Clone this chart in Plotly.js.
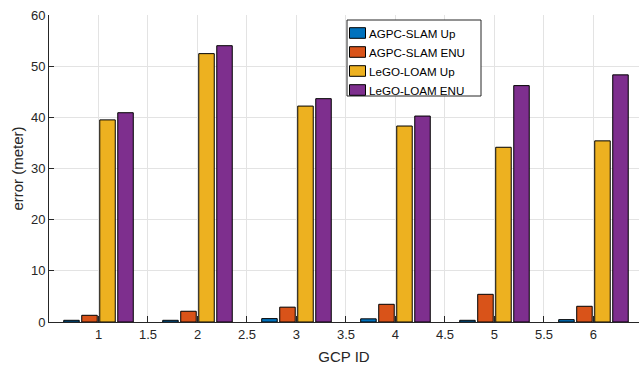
<!DOCTYPE html>
<html>
<head>
<meta charset="utf-8">
<script src="https://cdn.plot.ly/plotly-3.0.1.min.js"></script>
<style>html,body{margin:0;padding:0;background:#fff;overflow:hidden}</style>
</head>
<body>
<div id="chart" style="width:639px;height:367px"></div>
<script>
const gcpIds = [1, 2, 3, 4, 5, 6];
const seriesNames = ['AGPC-SLAM Up', 'AGPC-SLAM ENU', 'LeGO-LOAM Up', 'LeGO-LOAM ENU'];
const agpcUp = [0.33, 0.33, 0.66, 0.62, 0.33, 0.46];
const agpcEnu = [1.31, 2.1, 2.9, 3.46, 5.41, 3.07];
const legoUp = [39.5, 52.45, 42.2, 38.3, 34.15, 35.4];
const legoEnu = [40.9, 54.0, 43.65, 40.25, 46.2, 48.3];
const xTickVals = [1, 1.5, 2, 2.5, 3, 3.5, 4, 4.5, 5, 5.5, 6];
const xTickText = ['1', '1.5', '2', '2.5', '3', '3.5', '4', '4.5', '5', '5.5', '6'];
const yTickVals = [0, 10, 20, 30, 40, 50, 60];

const colors = ['#0072BD', '#D95319', '#EDB120', '#7E2F8E'];
const allSeries = [agpcUp, agpcEnu, legoUp, legoEnu];

const traces = allSeries.map((vals, i) => ({
  type: 'bar',
  name: seriesNames[i],
  x: gcpIds,
  y: vals,
  marker: {color: colors[i], line: {color: '#000000', width: 1}},
  hoverinfo: 'skip'
}));

// plot area geometry (pixels) used to place the legend box
const W = 639, H = 367, ML = 49, MR = 0, MT = 15, MB = 45;
const PW = W - ML - MR, PH = H - MT - MB;
const px = p => (p - ML) / PW;
const py = p => (H - MB - p) / PH;

const shapes = [];
const annotations = [];
// legend frame
shapes.push({type: 'rect', xref: 'paper', yref: 'paper', x0: px(347), x1: px(481), y0: py(96), y1: py(20),
  line: {color: '#262626', width: 1}, fillcolor: '#ffffff', layer: 'above'});
seriesNames.forEach((name, i) => {
  const cy = 33 + i * 19;
  shapes.push({type: 'rect', xref: 'paper', yref: 'paper', x0: px(349.5), x1: px(365.5), y0: py(cy + 5.3), y1: py(cy - 5.3),
    line: {color: '#000000', width: 1}, fillcolor: colors[i], layer: 'above'});
  annotations.push({xref: 'paper', yref: 'paper', x: px(368), y: py(cy), xanchor: 'left', yanchor: 'middle',
    text: name, showarrow: false, borderpad: 0,
    font: {family: 'Liberation Sans, Arial, sans-serif', size: 11.6, color: '#000000'}});
});

const axisFont = {family: 'Liberation Sans, Arial, sans-serif', size: 13, color: '#262626'};

const layout = {
  width: W,
  height: H,
  margin: {l: ML, r: MR, t: MT, b: MB, pad: 0},
  paper_bgcolor: '#ffffff',
  plot_bgcolor: '#ffffff',
  barmode: 'group',
  bargap: 0.272,
  bargroupgap: 0.14,
  showlegend: false,
  shapes: shapes,
  annotations: annotations,
  xaxis: {
    range: [0.5, 6.46],
    tickmode: 'array', tickvals: xTickVals, ticktext: xTickText,
    ticks: 'inside', ticklen: 6, tickcolor: '#262626', tickwidth: 1,
    showgrid: true, gridcolor: '#e3e3e3', gridwidth: 1,
    showline: true, linecolor: '#262626', linewidth: 1,
    zeroline: false,
    tickfont: axisFont,
    title: {text: 'GCP ID', font: {family: 'Liberation Sans, Arial, sans-serif', size: 15, color: '#262626'}, standoff: 10}
  },
  yaxis: {
    range: [0, 60],
    tickmode: 'array', tickvals: yTickVals,
    ticks: 'inside', ticklen: 5, tickcolor: '#262626', tickwidth: 1,
    showgrid: true, gridcolor: '#e3e3e3', gridwidth: 1,
    showline: true, linecolor: '#262626', linewidth: 1,
    zeroline: false,
    tickfont: axisFont,
    title: {text: 'error (meter)', font: {family: 'Liberation Sans, Arial, sans-serif', size: 15, color: '#262626'}, standoff: 3}
  }
};

Plotly.newPlot('chart', traces, layout, {staticPlot: true, displayModeBar: false});
</script>
</body>
</html>
